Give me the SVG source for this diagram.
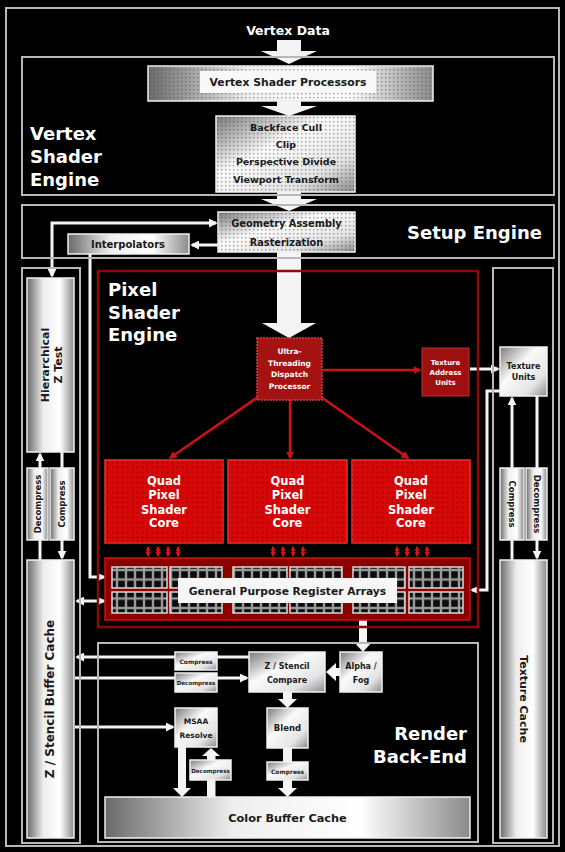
<svg xmlns="http://www.w3.org/2000/svg" width="565" height="852" viewBox="0 0 565 852">
<defs>
<style>
text{font-family:"DejaVu Sans","Liberation Sans",sans-serif;font-weight:bold}
.t{fill:#fff;font-size:18px}
.d{fill:#1a1a1a;text-anchor:middle}
.w{fill:#fff;text-anchor:middle}
.frame{fill:none;stroke:#b8b8b8;stroke-width:2}
.met{fill:url(#gD);stroke:#f0f0f0;stroke-width:1.5}
.metv{fill:url(#gH);stroke:#f0f0f0;stroke-width:1.5}
.dot{fill:url(#dots)}
.c{fill:none;stroke:#f4f4f4;stroke-width:3}
.r{fill:none;stroke:#cc1119;stroke-width:2.5}
.rs{fill:none;stroke:#e01010;stroke-width:2}
.blk{fill:#f4f4f4}
.core{fill:#d80808;stroke:#f03030;stroke-width:1.5}
.gpr{fill:url(#cells);stroke:#d8d8d8;stroke-width:1.5}
</style>
<linearGradient id="gH" x1="0" y1="0" x2="1" y2="0">
<stop offset="0" stop-color="#6a6a6a"/>
<stop offset="0.35" stop-color="#eeeeee"/>
<stop offset="0.7" stop-color="#ffffff"/>
<stop offset="1" stop-color="#8a8a8a"/>
</linearGradient>
<linearGradient id="gD" x1="0" y1="0" x2="1" y2="1">
<stop offset="0" stop-color="#7a7a7a"/>
<stop offset="0.4" stop-color="#fafafa"/>
<stop offset="0.75" stop-color="#e4e4e4"/>
<stop offset="1" stop-color="#8a8a8a"/>
</linearGradient>
<pattern id="dots" width="4" height="4" patternUnits="userSpaceOnUse">
<rect x="1" y="1" width="1.4" height="1.4" fill="#444" opacity="0.5"/>
</pattern>
<pattern id="rdots" width="5" height="5" patternUnits="userSpaceOnUse">
<rect x="1.5" y="1.5" width="2" height="2" fill="#8f0000" opacity="0.55"/>
</pattern>
<pattern id="cells" width="9" height="9.5" patternUnits="userSpaceOnUse">
<rect width="9" height="9.5" fill="#9a9a9a"/>
<rect x="1.2" y="1.2" width="6.6" height="7.1" fill="#0c0c0c"/>
</pattern>
<marker id="a" viewBox="0 0 10 10" refX="8" refY="5" markerWidth="9" markerHeight="9" markerUnits="userSpaceOnUse" orient="auto-start-reverse">
<path d="M0,0 L10,5 L0,10 z" fill="#f4f4f4"/>
</marker>
<marker id="ar" viewBox="0 0 10 10" refX="8" refY="5" markerWidth="8" markerHeight="8" markerUnits="userSpaceOnUse" orient="auto-start-reverse">
<path d="M0,0 L10,5 L0,10 z" fill="#cc1119"/>
</marker>
<marker id="ars" viewBox="0 0 10 10" refX="8" refY="5" markerWidth="5" markerHeight="5" markerUnits="userSpaceOnUse" orient="auto-start-reverse">
<path d="M0,0 L10,5 L0,10 z" fill="#e01010"/>
</marker>
</defs>
<rect width="565" height="852" fill="#000"/>
<rect class="frame" x="6" y="8" width="553" height="838"/>

<g id="connectors">
<polygon class="blk" points="277,40 301,40 301,51 317,51 289,64 261,51 277,51"/>
<polygon class="blk" points="277,101 301,101 301,106 317,106 289,116 261,106 277,106"/>
<polygon class="blk" points="277,192 301,192 301,199 317,199 289,211 261,199 277,199"/>
<polygon class="blk" points="277,252 301,252 301,323 316,323 289,338 262,323 277,323"/>
<path class="c" d="M218,245 H192" marker-end="url(#a)"/>
<path class="c" d="M52,276 V223 H216" marker-start="url(#a)" marker-end="url(#a)"/>
<path class="c" d="M90,254 V577 H104" marker-end="url(#a)"/>
<path class="c" d="M77,601 H104" marker-start="url(#a)" marker-end="url(#a)"/>
<path class="c" d="M40,468 V454" marker-end="url(#a)"/>
<path class="c" d="M62,452 V468"/>
<path class="c" d="M40,560 V540"/>
<path class="c" d="M62,540 V558" marker-end="url(#a)"/>
<path class="c" d="M512,468 V398" marker-end="url(#a)"/>
<path class="c" d="M537,396 V468"/>
<path class="c" d="M512,560 V540"/>
<path class="c" d="M537,540 V558" marker-end="url(#a)"/>
<path class="c" d="M470,369 H498" marker-end="url(#a)"/>
<path class="c" d="M500,391 H487 V590 H472" marker-end="url(#a)"/>
<path class="r" d="M323,370 H420" marker-end="url(#ar)"/>
<path class="r" d="M258,397 L170,458" marker-end="url(#ar)"/>
<path class="r" d="M290,400 V458" marker-end="url(#ar)"/>
<path class="r" d="M321,397 L408,458" marker-end="url(#ar)"/>
<g class="rs">
<path d="M148,547 V556" marker-start="url(#ars)" marker-end="url(#ars)"/>
<path d="M158,547 V556" marker-start="url(#ars)" marker-end="url(#ars)"/>
<path d="M168,547 V556" marker-start="url(#ars)" marker-end="url(#ars)"/>
<path d="M178,547 V556" marker-start="url(#ars)" marker-end="url(#ars)"/>
<path d="M273,547 V556" marker-start="url(#ars)" marker-end="url(#ars)"/>
<path d="M283,547 V556" marker-start="url(#ars)" marker-end="url(#ars)"/>
<path d="M293,547 V556" marker-start="url(#ars)" marker-end="url(#ars)"/>
<path d="M303,547 V556" marker-start="url(#ars)" marker-end="url(#ars)"/>
<path d="M397,547 V556" marker-start="url(#ars)" marker-end="url(#ars)"/>
<path d="M407,547 V556" marker-start="url(#ars)" marker-end="url(#ars)"/>
<path d="M417,547 V556" marker-start="url(#ars)" marker-end="url(#ars)"/>
<path d="M427,547 V556" marker-start="url(#ars)" marker-end="url(#ars)"/>
</g>
<path class="c" d="M249,657 H77" marker-end="url(#a)"/>
<path class="c" d="M75,678 H247" marker-end="url(#a)"/>
<path class="c" d="M75,727 H173" marker-end="url(#a)"/>
<polygon class="blk" points="359,620 367,620 367,642 372,642 363,652 354,642 359,642"/>
<polygon class="blk" points="341,668 336,668 336,663 326,672 336,681 336,676 341,676"/>
<polygon class="blk" points="283,692 292,692 292,699 297,699 287.5,708 278,699 283,699"/>
<rect class="blk" x="283" y="748" width="9" height="14"/>
<polygon class="blk" points="283,780 292,780 292,788 297,788 287.5,797 278,788 283,788"/>
<polygon class="blk" points="178,747 186,747 186,788 191,788 182,797 173,788 178,788"/>
<rect class="blk" x="207" y="780" width="8.5" height="17"/>
<polygon class="blk" points="207,760 215.5,760 215.5,756 220,756 211,748 202,756 207,756"/>
</g>

<g id="vertex-engine">
<rect class="frame" x="22" y="57" width="532" height="138"/>
<text class="t" x="30" y="140">Vertex</text>
<text class="t" x="30" y="163">Shader</text>
<text class="t" x="30" y="186">Engine</text>
</g>
<text id="vertex-data" class="w" x="288" y="35" style="font-size:12.5px">Vertex Data</text>
<g id="vsp">
<rect class="metv" x="148" y="66" width="285" height="35"/>
<rect class="dot" x="148" y="66" width="285" height="35"/>
<rect x="200" y="71" width="176" height="22" fill="#f8f8f8"/>
<text class="d" x="288" y="86" style="font-size:10.8px">Vertex Shader Processors</text>
</g>
<g id="backface">
<rect class="met" x="216" y="116" width="139" height="76"/>
<rect class="dot" x="216" y="116" width="139" height="76"/>
<text class="d" x="286" y="131" style="font-size:9.5px">Backface Cull</text>
<text class="d" x="286" y="148" style="font-size:9.5px">Clip</text>
<text class="d" x="286" y="165" style="font-size:9.5px">Perspective Divide</text>
<text class="d" x="286" y="183" style="font-size:9.5px">Viewport Transform</text>
</g>

<g id="setup-engine">
<rect class="frame" x="22" y="205" width="532" height="53"/>
<text class="t" x="407" y="239">Setup Engine</text>
</g>
<g id="geometry">
<rect class="met" x="218" y="212" width="137" height="40"/>
<rect class="dot" x="218" y="212" width="137" height="40"/>
<text class="d" x="286.5" y="227" style="font-size:9.8px">Geometry Assembly</text>
<text class="d" x="286.5" y="246" style="font-size:9.8px">Rasterization</text>
</g>
<g id="interpolators">
<rect class="metv" x="68" y="234" width="121" height="20"/>
<text class="d" x="128" y="248" style="font-size:10px">Interpolators</text>
</g>

<g id="left-column">
<rect class="frame" x="22" y="268" width="58" height="575"/>
</g>
<g id="hier-z">
<rect class="metv" x="27" y="278" width="47" height="174"/>
<text class="d" transform="rotate(-90 50 365)" x="50" y="364" style="font-size:11px">Hierarchical</text>
<text class="d" transform="rotate(-90 50 365)" x="50" y="377" style="font-size:11px">Z Test</text>
</g>
<g id="l-decompress">
<rect class="metv" x="27" y="468" width="21" height="72"/>
<text class="d" transform="rotate(-90 37.5 504)" x="37.5" y="507" style="font-size:8.5px">Decompress</text>
</g>
<g id="l-compress">
<rect class="metv" x="50" y="468" width="24" height="72"/>
<text class="d" transform="rotate(-90 62 504)" x="62" y="507" style="font-size:8.5px">Compress</text>
</g>
<g id="z-cache">
<rect class="metv" x="27" y="560" width="47" height="278"/>
<text class="d" transform="rotate(-90 50 699)" x="50" y="703" style="font-size:12px">Z / Stencil Buffer Cache</text>
</g>

<g id="right-column">
<rect class="frame" x="493" y="268" width="60" height="575"/>
</g>
<g id="texture-units">
<rect class="met" x="500" y="347" width="47" height="49"/>
<text class="d" x="523.5" y="369" style="font-size:8px">Texture</text>
<text class="d" x="523.5" y="380" style="font-size:8px">Units</text>
</g>
<g id="r-compress">
<rect class="metv" x="500" y="468" width="24" height="72"/>
<text class="d" transform="rotate(90 512 504)" x="512" y="507" style="font-size:8.5px">Compress</text>
</g>
<g id="r-decompress">
<rect class="metv" x="526" y="468" width="21" height="72"/>
<text class="d" transform="rotate(90 536.5 504)" x="536.5" y="507" style="font-size:8.5px">Decompress</text>
</g>
<g id="texture-cache">
<rect class="metv" x="500" y="560" width="47" height="278"/>
<text class="d" transform="rotate(90 523.5 699)" x="523.5" y="703" style="font-size:11px">Texture Cache</text>
</g>

<g id="pixel-shader-engine">
<rect x="98" y="271" width="380" height="356" fill="none" stroke="#8a0a0a" stroke-width="2.5"/>
<text class="t" x="108" y="296">Pixel</text>
<text class="t" x="108" y="319">Shader</text>
<text class="t" x="108" y="341">Engine</text>
</g>
<g id="dispatch">
<rect x="257" y="338" width="65" height="62" fill="#a51212" stroke="#c84040" stroke-width="1.5" stroke-dasharray="2 1"/>
<text class="w" x="289.5" y="354" style="font-size:7.5px">Ultra-</text>
<text class="w" x="289.5" y="365.5" style="font-size:7.5px">Threading</text>
<text class="w" x="289.5" y="377" style="font-size:7.5px">Dispatch</text>
<text class="w" x="289.5" y="388.5" style="font-size:7.5px">Processor</text>
</g>
<g id="texture-address">
<rect x="422" y="348" width="47" height="48" fill="#9e1010" stroke="#b83030" stroke-width="1"/>
<text class="w" x="445.5" y="365" style="font-size:7px">Texture</text>
<text class="w" x="445.5" y="375" style="font-size:7px">Address</text>
<text class="w" x="445.5" y="385" style="font-size:7px">Units</text>
</g>
<g id="core1">
<rect class="core" x="105" y="460" width="118" height="83"/>
<rect fill="url(#rdots)" x="105" y="460" width="118" height="83"/>
<text class="w" x="164" y="485" style="font-size:11.5px">Quad</text>
<text class="w" x="164" y="499" style="font-size:11.5px">Pixel</text>
<text class="w" x="164" y="514" style="font-size:11.5px">Shader</text>
<text class="w" x="164" y="527" style="font-size:11.5px">Core</text>
</g>
<g id="core2">
<rect class="core" x="228" y="460" width="119" height="83"/>
<rect fill="url(#rdots)" x="228" y="460" width="119" height="83"/>
<text class="w" x="287.5" y="485" style="font-size:11.5px">Quad</text>
<text class="w" x="287.5" y="499" style="font-size:11.5px">Pixel</text>
<text class="w" x="287.5" y="514" style="font-size:11.5px">Shader</text>
<text class="w" x="287.5" y="527" style="font-size:11.5px">Core</text>
</g>
<g id="core3">
<rect class="core" x="352" y="460" width="118" height="83"/>
<rect fill="url(#rdots)" x="352" y="460" width="118" height="83"/>
<text class="w" x="411" y="485" style="font-size:11.5px">Quad</text>
<text class="w" x="411" y="499" style="font-size:11.5px">Pixel</text>
<text class="w" x="411" y="514" style="font-size:11.5px">Shader</text>
<text class="w" x="411" y="527" style="font-size:11.5px">Core</text>
</g>
<g id="gpr">
<rect x="105" y="558" width="365" height="62" fill="#8d0000" stroke="#d01010" stroke-width="1.5"/>
<rect class="gpr" x="112" y="567" width="55" height="21"/>
<rect class="gpr" x="170" y="567" width="52" height="21"/>
<rect class="gpr" x="233" y="567" width="54" height="21"/>
<rect class="gpr" x="290" y="567" width="52" height="21"/>
<rect class="gpr" x="353" y="567" width="52" height="21"/>
<rect class="gpr" x="409" y="567" width="54" height="21"/>
<rect class="gpr" x="112" y="592" width="55" height="21"/>
<rect class="gpr" x="170" y="592" width="52" height="21"/>
<rect class="gpr" x="233" y="592" width="54" height="21"/>
<rect class="gpr" x="290" y="592" width="52" height="21"/>
<rect class="gpr" x="353" y="592" width="52" height="21"/>
<rect class="gpr" x="409" y="592" width="54" height="21"/>
<rect x="178" y="578" width="219" height="25" fill="#f6f6f6"/>
<text class="d" x="287.5" y="595" style="font-size:10.7px">General Purpose Register Arrays</text>
</g>

<g id="render-back-end">
<rect class="frame" x="98" y="643" width="380" height="199"/>
<text class="t" x="467" y="740" text-anchor="end">Render</text>
<text class="t" x="467" y="763" text-anchor="end">Back-End</text>
</g>
<g id="rb-compress">
<rect class="met" x="175" y="652" width="42" height="18"/>
<text class="d" x="196" y="663.5" style="font-size:6px">Compress</text>
</g>
<g id="rb-decompress">
<rect class="met" x="175" y="673" width="42" height="19"/>
<text class="d" x="196" y="685" style="font-size:5.6px">Decompress</text>
</g>
<g id="z-compare">
<rect class="met" x="249" y="652" width="76" height="40"/>
<text class="d" x="287" y="669" style="font-size:8px">Z / Stencil</text>
<text class="d" x="287" y="683" style="font-size:8px">Compare</text>
</g>
<g id="alpha-fog">
<rect class="met" x="340" y="652" width="42" height="40"/>
<text class="d" x="361" y="669" style="font-size:8px">Alpha /</text>
<text class="d" x="361" y="683" style="font-size:8px">Fog</text>
</g>
<g id="msaa">
<rect class="met" x="175" y="708" width="42" height="39"/>
<text class="d" x="196" y="724" style="font-size:7.5px">MSAA</text>
<text class="d" x="196" y="738" style="font-size:7.5px">Resolve</text>
</g>
<g id="blend">
<rect class="met" x="267" y="708" width="41" height="40"/>
<text class="d" x="287.5" y="731" style="font-size:8.5px">Blend</text>
</g>
<g id="blend-compress">
<rect class="met" x="267" y="762" width="41" height="18"/>
<text class="d" x="287.5" y="774" style="font-size:6px">Compress</text>
</g>
<g id="msaa-decompress">
<rect class="met" x="190" y="760" width="41" height="20"/>
<text class="d" x="210.5" y="772.5" style="font-size:5.6px">Decompress</text>
</g>
<g id="color-cache">
<rect class="metv" x="105" y="797" width="365" height="41"/>
<text class="d" x="287.5" y="822" style="font-size:11.3px">Color Buffer Cache</text>
</g>
</svg>
